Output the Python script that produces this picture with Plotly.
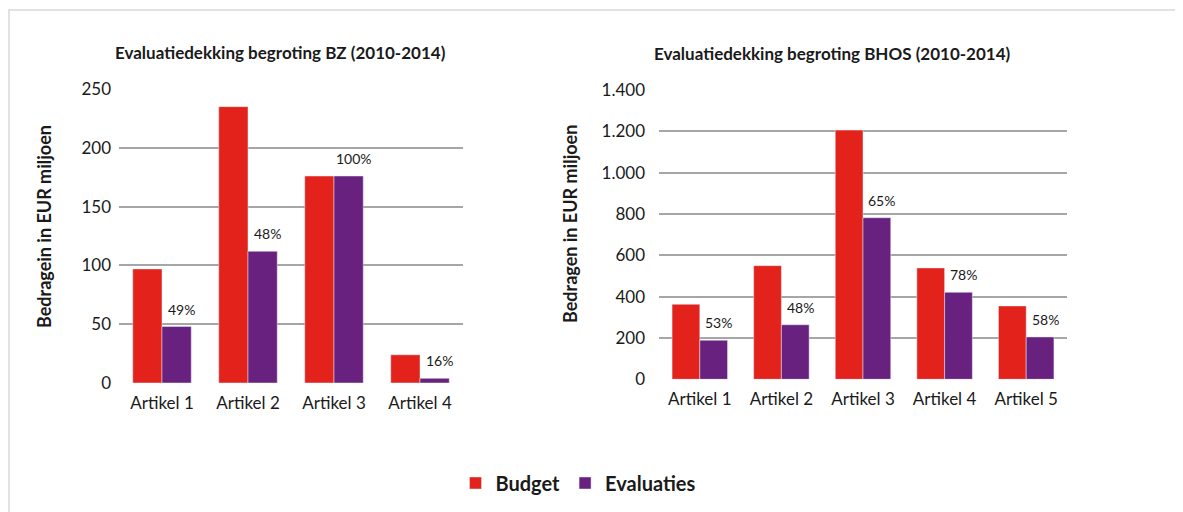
import plotly.graph_objects as go

# ---------------- data ----------------
bz_categories = ["Artikel 1", "Artikel 2", "Artikel 3", "Artikel 4"]
bz_budget = [97, 235, 176, 24]
bz_evaluaties = [48, 112, 176, 4]
bz_labels = ["49%", "48%", "100%", "16%"]

bhos_categories = ["Artikel 1", "Artikel 2", "Artikel 3", "Artikel 4", "Artikel 5"]
bhos_budget = [363, 550, 1206, 539, 355]
bhos_evaluaties = [189, 264, 782, 421, 205]
bhos_labels = ["53%", "48%", "65%", "78%", "58%"]

bz_ticks = [0, 50, 100, 150, 200, 250]
bhos_ticks = [0, 200, 400, 600, 800, 1000, 1200, 1400]

# ---------------- styling ----------------
W, H = 1175, 512
ML, MR, MT, MB = 30, 30, 30, 30
OFF = 8  # page body offset
BARGAP = 0.32

RED = "#e3231b"
PURPLE = "#68217e"
GRID = "#a6a6a6"
FONT = "Lato"
TXT = "#1a1a1a"


def fx(px):
    return (px - OFF - ML) / (W - ML - MR)


def fy(py):
    return 1 - (py - OFF - MT) / (H - MT - MB)


fig = go.Figure()

fig.add_trace(go.Bar(x=bz_categories, y=bz_budget, name="Budget", marker_color=RED,
                     xaxis="x", yaxis="y", legendgroup="b", showlegend=True))
fig.add_trace(go.Bar(x=bz_categories, y=bz_evaluaties, name="Evaluaties", marker_color=PURPLE,
                     xaxis="x", yaxis="y", legendgroup="e", showlegend=True))
fig.add_trace(go.Bar(x=bhos_categories, y=bhos_budget, name="Budget", marker_color=RED,
                     xaxis="x2", yaxis="y2", legendgroup="b", showlegend=False))
fig.add_trace(go.Bar(x=bhos_categories, y=bhos_evaluaties, name="Evaluaties", marker_color=PURPLE,
                     xaxis="x2", yaxis="y2", legendgroup="e", showlegend=False))

xcommon = dict(showline=False, zeroline=False, ticks="", showgrid=False,
               tickfont=dict(size=17, color=TXT, family=FONT), ticklabelstandoff=8)
ycommon = dict(showline=False, zeroline=False, ticks="", showgrid=True,
               gridcolor=GRID, gridwidth=2,
               tickfont=dict(size=17, color=TXT, family=FONT))

bold = dict(family=FONT, color=TXT, weight="bold")

# percentage labels above the Evaluaties bars (offset = half a bar + a little to the right)
left_cat_px = (463 - 119) / len(bz_categories)
right_cat_px = (1067 - 659) / len(bhos_categories)
pct_annotations = []
for cat, val, lab in zip(bz_categories, bz_evaluaties, bz_labels):
    pct_annotations.append(dict(x=cat, y=val, xref="x", yref="y", text=lab, showarrow=False,
                                xanchor="center", yanchor="bottom",
                                xshift=left_cat_px * (1 - BARGAP) / 4 + 5, yshift=7,
                                font=dict(size=14, color=TXT, family=FONT)))
for cat, val, lab in zip(bhos_categories, bhos_evaluaties, bhos_labels):
    pct_annotations.append(dict(x=cat, y=val, xref="x2", yref="y2", text=lab, showarrow=False,
                                xanchor="center", yanchor="bottom",
                                xshift=right_cat_px * (1 - BARGAP) / 4 + 5, yshift=7,
                                font=dict(size=14, color=TXT, family=FONT)))

fig.update_layout(
    width=W, height=H,
    margin=dict(l=ML, r=MR, t=MT, b=MB),
    paper_bgcolor="white", plot_bgcolor="white",
    barmode="group", bargap=BARGAP, bargroupgap=0,
    separators=",.",
    font=dict(family=FONT, color=TXT),
    xaxis=dict(domain=[fx(119), fx(463)], anchor="y", **xcommon),
    yaxis=dict(domain=[fy(383), fy(89)], anchor="x", range=[0, 250], tickvals=bz_ticks,
               ticklabelstandoff=7, **ycommon),
    xaxis2=dict(domain=[fx(659), fx(1067)], anchor="y2", **xcommon),
    yaxis2=dict(domain=[fy(379.3), fy(90)], anchor="x2", range=[0, 1400], tickvals=bhos_ticks,
                tickformat=",d", ticklabelstandoff=13, **ycommon),
    legend=dict(orientation="h", x=fx(578), xanchor="center", y=fy(483), yanchor="middle",
                font=dict(size=20, **bold), itemwidth=30, traceorder="normal",
                bgcolor="rgba(0,0,0,0)"),
    shapes=[
        dict(type="line", xref="paper", yref="paper", x0=fx(0), x1=fx(1200), y0=fy(10), y1=fy(10),
             line=dict(color="#e2e2e2", width=2)),
        dict(type="line", xref="paper", yref="paper", x0=fx(9), x1=fx(9), y0=fy(10), y1=fy(530),
             line=dict(color="#e2e2e2", width=2)),
    ],
    annotations=[
        dict(text="Evaluatiedekking begroting BZ (2010-2014)", xref="paper", yref="paper",
             x=fx(280.5), y=fy(52), showarrow=False, xanchor="center", yanchor="middle",
             font=dict(size=17, **bold)),
        dict(text="Evaluatiedekking begroting BHOS (2010-2014)", xref="paper", yref="paper",
             x=fx(832.5), y=fy(53), showarrow=False, xanchor="center", yanchor="middle",
             font=dict(size=17, **bold)),
        dict(text="Bedragein in EUR miljoen", xref="paper", yref="paper", textangle=-90,
             x=fx(44), y=fy(227), showarrow=False, xanchor="center", yanchor="middle",
             font=dict(size=18, **bold)),
        dict(text="Bedragen in EUR miljoen", xref="paper", yref="paper", textangle=-90,
             x=fx(570), y=fy(224), showarrow=False, xanchor="center", yanchor="middle",
             font=dict(size=18, **bold)),
    ] + pct_annotations,
)

fig.write_html("out.html")
